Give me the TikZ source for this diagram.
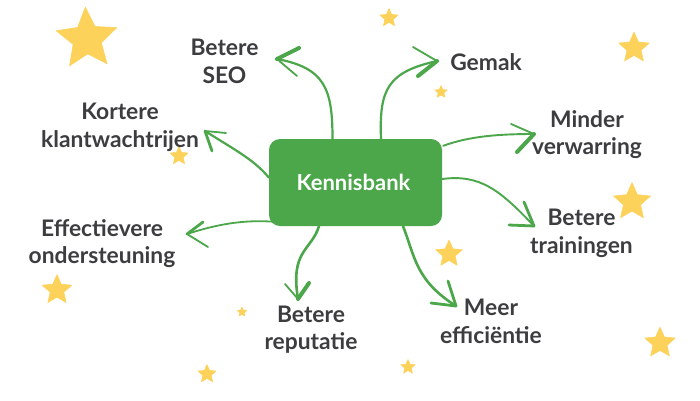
\documentclass[tikz,border=0pt]{standalone}
\usepackage{fontspec}
\setmainfont{Lato}
\usetikzlibrary{shapes.geometric,calc}
\definecolor{gr}{HTML}{4BA74A}
\definecolor{st}{HTML}{FDD25A}
\definecolor{tx}{HTML}{3D3D40}
\tikzset{
  x=1pt,y=-1pt,
  conn/.style={draw=gr,line width=2.2pt,line cap=round,line join=round},
  thin barb/.style={draw=gr,line width=1.8pt,line cap=round},
  thick barb/.style={draw=gr,line width=4pt,line cap=round},
  mid barb/.style={draw=gr,line width=2.8pt,line cap=round},
  lbl/.style={text=tx,align=center,inner sep=0pt,font=\fontsize{22.8}{27.5}\selectfont\bfseries},
  hubbox/.style={fill=gr,rounded corners=11pt,minimum width=173pt,minimum height=87pt,inner sep=0pt,text=white,font=\fontsize{22}{24}\selectfont\bfseries},
  starry/.style={star,star points=5,star point ratio=2.15,fill=st,draw=st,line width=.5pt,line join=round,inner sep=0pt,minimum size=#1}
}
\begin{document}
\begin{tikzpicture}
\useasboundingbox (0,0) rectangle (700,400);
\fill[white] (0,0) rectangle (700,400);
\foreach \n/\a/\b/\s/\r in {s1/87/39/64/3,s2/389/18/19/0,s3/634/48/32/0,s4/441/92/13/0,s5/179/156/19/0,s6/632/202/39/0,s7/449/254/28/0,s8/57/290/31/0,s9/242/312/10/0,s10/660/343/32/0,s11/207/374/19/0,s12/408/367/15/0}
  \node[starry=\s pt,rotate=\r] (\n) at (\a,\b) {};
\node[hubbox] (hub) at (355.5,182.5) {\hspace*{-4pt}Kennisbank};
\node[lbl] (seo) at (224.5,61.5) {Betere\\SEO};
\node[lbl] (gemak) at (486,62) {Gemak};
\node[lbl] (kort) at (120,127.5) {Kortere\\klantwachtrijen};
\node[lbl] (eff) at (102,243.5) {Effectievere\\ondersteuning};
\node[lbl] (rep) at (311,329.5) {Betere\\reputatie};
\node[lbl] (meer) at (491,321.5) {Meer\\efficiëntie};
\node[lbl] (mind) at (587,134.5) {Minder\\verwarring};
\node[lbl] (train) at (581.5,233.5) {Betere\\trainingen};
\foreach \n/\a/\b in {tseo/277/59,tgem/437/61,tkort/205/131,teff/187/234,trep/298/299,tmeer/456/306,tmind/534/134,ttrain/534/226}
  \coordinate (\n) at (\a,\b);
% SEO
\draw[conn] ($(hub.north)+(-23,0)$) .. controls +(0,-50) and (325,68) .. (tseo);
\draw[thick barb] (tseo) -- +(22,-11);
\draw[thin barb] (tseo) -- +(20,17);
% Gemak
\draw[conn] ($(hub.north)+(25.5,0)$) .. controls +(-2,-50) and (388,72) .. (tgem);
\draw[thin barb] (tgem) -- +(-24,-14);
\draw[thick barb] (tgem) -- +(-19,15);
% Kortere
\draw[conn] ($(hub.west)+(0,-5)$) .. controls +(-15,-18) and (235,150) .. (tkort);
\draw[thin barb] (tkort) -- +(21,2);
\draw[mid barb] (tkort) -- +(7,20);
% Effectievere
\draw[conn,line width=1.8pt] ($(hub.south west)+(12,-4)$) .. controls +(-25,-2) and (230,220) .. (teff);
\draw[mid barb] (teff) -- +(16,-12);
\draw[thin barb] (teff) -- +(21,13);
% Reputatie
\draw[conn,line width=2.6pt] ($(hub.south)+(-36.5,0)$) .. controls +(-8,25) and (290,250) .. (trep);
\draw[thin barb] (trep) -- +(-13,-15);
\draw[thick barb] (trep) -- +(11,-16);
% Meer
\draw[conn,line width=2.6pt] ($(hub.south)+(47.5,0)$) .. controls +(12,30) and (415,280) .. (tmeer);
\draw[mid barb] (tmeer) -- +(-8,-25);
\draw[mid barb] (tmeer) -- +(-25,-3);
% Minder
\draw[conn,line width=1.9pt] ($(hub.north east)+(1,7)$) .. controls (470,136) and (500,134) .. (tmind);
\draw[thin barb] (tmind) -- +(-23,-10);
\draw[thick barb] (tmind) -- +(-17,18);
% Trainingen
\draw[conn,line width=1.9pt] ($(hub.east)+(0,-3.5)$) .. controls (480,174) and (500,190) .. (ttrain);
\draw[mid barb] (ttrain) -- +(-10,-24);
\draw[mid barb] (ttrain) -- +(-25,-1);
\end{tikzpicture}
\end{document}
